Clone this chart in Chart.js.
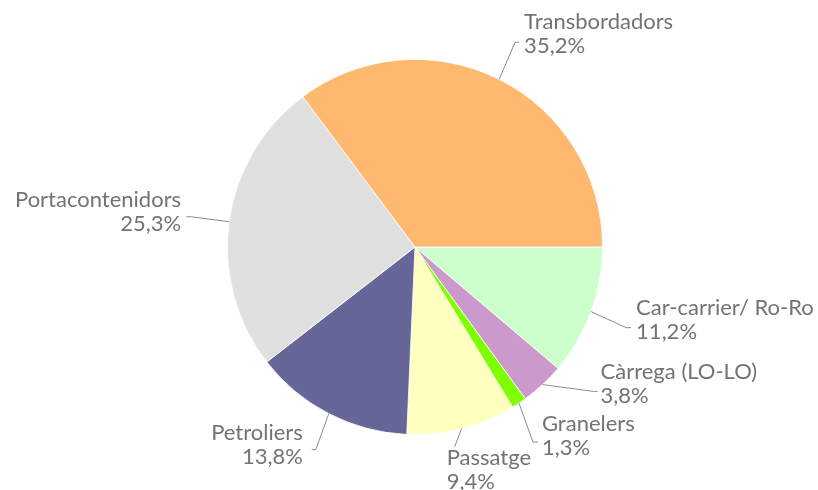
<!DOCTYPE html>
<html>
<head>
<meta charset="utf-8">
<script src="https://cdn.jsdelivr.net/npm/chart.js@4.4.0/dist/chart.umd.min.js"></script>
<style>
  html, body { margin: 0; padding: 0; background: #fff; }
  #wrap { width: 818px; height: 490px; }
</style>
</head>
<body>
<div id="wrap"><canvas id="chart"></canvas></div>
<script>
const categories = ["Car-carrier/ Ro-Ro", "Càrrega (LO-LO)", "Granelers", "Passatge", "Petroliers", "Portacontenidors", "Transbordadors"];
const shares = [11.2, 3.8, 1.3, 9.4, 13.8, 25.3, 35.2];
const colors = ["#CCFFCC", "#CC99CC", "#80FF00", "#FFFFC0", "#666699", "#E0E0E0", "#FFB870"];

// leader line elbow (relative to slice edge), side the text sits on, text offsets from elbow
const labelLayout = [
  { elbow: [35, 16], tail: 5, align: "left", tx: 10, ty: -20 },
  { elbow: [52, 7], tail: 3, align: "left", tx: 6, ty: -20 },
  { elbow: [14, 39], tail: 5, align: "left", tx: 9, ty: -18 },
  { elbow: [-7, 18], tail: 0, align: "left", tx: -8, ty: 11 },
  { elbow: [-13, 36], tail: -4, align: "right", tx: -13, ty: -17 },
  { elbow: [-38, -5], tail: -5, align: "right", tx: -10, ty: -17 },
  { elbow: [16, -37], tail: 4, align: "left", tx: 9, ty: -20 }
];

const pctText = v => v.toFixed(1).replace(".", ",") + "%";

const leaderLabels = {
  id: "leaderLabels",
  afterDraw(chart) {
    const ctx = chart.ctx;
    const arcs = chart.getDatasetMeta(0).data;
    ctx.save();
    ctx.font = "22px Lato";
    ctx.fillStyle = "#737373";
    ctx.strokeStyle = "#8c8c8c";
    ctx.lineWidth = 1;
    ctx.textBaseline = "middle";
    arcs.forEach((arc, i) => {
      const mid = (arc.startAngle + arc.endAngle) / 2;
      const ex = arc.x + arc.outerRadius * Math.cos(mid);
      const ey = arc.y + arc.outerRadius * Math.sin(mid);
      const L = labelLayout[i];
      const bx = ex + L.elbow[0], by = ey + L.elbow[1];
      ctx.beginPath();
      ctx.moveTo(ex, ey);
      ctx.lineTo(bx, by);
      if (L.tail) ctx.lineTo(bx + L.tail, by);
      ctx.stroke();
      ctx.textAlign = L.align;
      const tx = bx + L.tx;
      ctx.fillText(categories[i], tx, by + L.ty);
      ctx.fillText(pctText(shares[i]), tx, by + L.ty + 24);
    });
    ctx.restore();
  }
};

new Chart(document.getElementById("chart"), {
  type: "pie",
  data: {
    labels: categories,
    datasets: [{
      data: shares,
      backgroundColor: colors,
      borderColor: "#ffffff",
      borderWidth: 0.8
    }]
  },
  options: {
    responsive: true,
    maintainAspectRatio: false,
    animation: false,
    rotation: 90,
    layout: { padding: { top: 59, bottom: 55, left: 12, right: 0 } },
    events: [],
    plugins: {
      legend: { display: false },
      tooltip: { enabled: false }
    }
  },
  plugins: [leaderLabels]
});
</script>
</body>
</html>
